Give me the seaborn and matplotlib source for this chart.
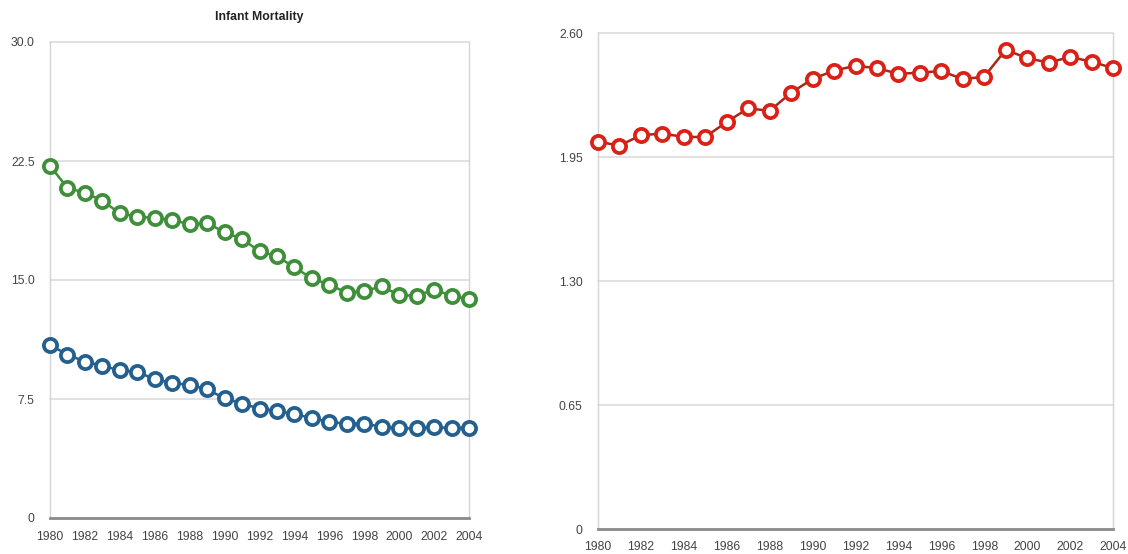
import numpy as np
import pandas as pd
import matplotlib
matplotlib.use("Agg")
import matplotlib.pyplot as plt
import seaborn as sns

years = list(range(1980, 2005))
green_vals = [22.2, 20.8, 20.5, 20.0, 19.2, 19.0, 18.9, 18.8, 18.5, 18.6, 18.0, 17.6,
              16.8, 16.5, 15.8, 15.1, 14.7, 14.2, 14.3, 14.6, 14.05, 14.0, 14.4, 14.0, 13.8]
blue_vals = [10.9, 10.3, 9.85, 9.6, 9.3, 9.2, 8.75, 8.5, 8.4, 8.1, 7.55, 7.2,
             6.9, 6.75, 6.55, 6.3, 6.05, 5.95, 5.95, 5.75, 5.65, 5.65, 5.75, 5.65, 5.7]
red_vals = [2.03, 2.01, 2.064, 2.073, 2.055, 2.055, 2.134, 2.205, 2.192, 2.287, 2.359, 2.403,
            2.428, 2.416, 2.386, 2.392, 2.401, 2.358, 2.371, 2.512, 2.468, 2.445, 2.474, 2.45, 2.416]
xtick_years = list(range(1980, 2005, 2))
left_yticks = [0, 7.5, 15.0, 22.5, 30.0]
left_ylabels = ["0", "7.5", "15.0", "22.5", "30.0"]
right_yticks = [0, 0.65, 1.30, 1.95, 2.60]
right_ylabels = ["0", "0.65", "1.30", "1.95", "2.60"]
title_left = "Infant Mortality"

sns.set_style("white")
plt.rcParams['font.family'] = ['Liberation Sans', 'DejaVu Sans']

fig = plt.figure(figsize=(11.28, 5.54), dpi=100)
axL = fig.add_axes([50/1128, 36/554, 419/1128, 476/554])
axR = fig.add_axes([598/1128, 25/554, 515/1128, 496/554])

df = pd.DataFrame({"year": years, "green": green_vals, "blue": blue_vals, "red": red_vals})

def draw(ax, col, line_c, mk_c):
    sns.lineplot(data=df, x="year", y=col, ax=ax, color=line_c, linewidth=1.8,
                 marker="o", markersize=9.5, markerfacecolor="white",
                 markeredgecolor=mk_c, markeredgewidth=2.7, zorder=5)

draw(axL, "green", "#3f8f3a", "#3f8f3a")
draw(axL, "blue", "#235f8f", "#235f8f")
draw(axR, "red", "#a82818", "#dc2016")

def style(ax, yticks, ylabels, ymax, bottom_pad):
    ax.set_xlim(1980, 2004)
    ax.set_ylim(0, ymax)
    ax.set_xticks(xtick_years)
    ax.set_xticklabels([str(y) for y in xtick_years])
    ax.set_yticks(yticks)
    ax.set_yticklabels(ylabels)
    ax.set_xlabel("")
    ax.set_ylabel("")
    for t in ax.get_yticks()[1:]:
        ax.axhline(t, color="#dcdcdc", linewidth=1.2, zorder=1)
    ax.spines["top"].set_visible(False)
    for s in ["left", "right"]:
        ax.spines[s].set_color("#d4d4d4")
        ax.spines[s].set_linewidth(1.0)
    ax.spines["bottom"].set_color("#8a8a8a")
    ax.spines["bottom"].set_linewidth(2.0)
    ax.tick_params(axis="both", length=0, labelsize=8.8, labelcolor="#444444")
    ax.tick_params(axis="y", pad=11)
    ax.tick_params(axis="x", pad=bottom_pad)
    for ln in ax.lines:
        ln.set_clip_on(False)

style(axL, left_yticks, left_ylabels, 30.0, 9)
style(axR, right_yticks, right_ylabels, 2.60, 9)

axL.set_title(title_left, fontsize=8.8, fontweight="bold", color="#222222", pad=16)

fig.savefig("out.png", dpi=100)
